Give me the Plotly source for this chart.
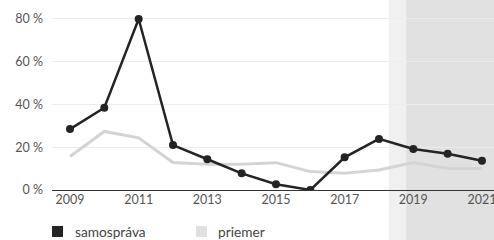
import plotly.graph_objects as go

years = list(range(2009, 2022))
samosprava = [28.5, 38.5, 80.0, 21.0, 14.4, 7.8, 2.7, 0.0, 15.3, 23.9, 19.2, 17.0, 13.7]
priemer = [15.7, 27.4, 24.4, 12.9, 12.0, 12.0, 12.8, 8.6, 7.8, 9.4, 12.8, 10.1, 10.1]
tick_years = [2009, 2011, 2013, 2015, 2017, 2019, 2021]
y_ticks = [0, 20, 40, 60, 80]
y_tick_text = [f"{v} %" for v in y_ticks]
series_names = ["samospráva", "priemer"]

dark = "#242424"
light = "#d4d4d4"
legend_colors = [dark, "#e0e0e0"]

fig = go.Figure()
fig.add_trace(go.Scatter(x=years, y=priemer, mode="lines", name=series_names[1],
                         line=dict(color=light, width=3), showlegend=False))
fig.add_trace(go.Scatter(x=years, y=samosprava, mode="lines+markers", name=series_names[0],
                         line=dict(color=dark, width=2.5),
                         marker=dict(color=dark, size=8), showlegend=False))

fig.add_shape(type="rect", xref="x", yref="paper", x0=2018.29, x1=2018.79,
              y0=-1, y1=2, fillcolor="#f0f0f0", line=dict(width=0), layer="below")
fig.add_shape(type="rect", xref="x", yref="paper", x0=2018.79, x1=2022,
              y0=-1, y1=2, fillcolor="#e1e1e1", line=dict(width=0), layer="below")

# custom legend (square swatches + text)
legend_sq_x = [0.0, 0.3258]
legend_txt_x = [0.0468, 0.371]
for name, col, sx, tx in zip(series_names, legend_colors, legend_sq_x, legend_txt_x):
    fig.add_shape(type="rect", xref="paper", yref="paper", x0=sx, x1=sx + 0.0249,
                  y0=-0.261, y1=-0.2, fillcolor=col, line=dict(width=0))
    fig.add_annotation(xref="paper", yref="paper", x=tx, y=-0.2306, text=name,
                       showarrow=False, xanchor="left", yanchor="middle",
                       font=dict(size=13.7, color="#444"))

fig.update_layout(
    width=494, height=240,
    margin=dict(l=52, r=0, t=10, b=50, autoexpand=False),
    paper_bgcolor="white", plot_bgcolor="rgba(0,0,0,0)",
    showlegend=False,
    font=dict(family="Lato, Open Sans, sans-serif", size=12.5, color="#555"),
    xaxis=dict(range=[2008.476, 2021.35], tickvals=tick_years,
               showgrid=False, zeroline=False, showline=False, ticks="",
               automargin=False, ticklabeloverflow="allow"),
    yaxis=dict(range=[0, 84.2], tickvals=y_ticks, ticktext=y_tick_text,
               showgrid=True, gridcolor="#ececec", gridwidth=1,
               zeroline=True, zerolinecolor="#333", zerolinewidth=1,
               ticks="", ticklabelstandoff=8, automargin=False),
)

fig.write_html("out.html", config={"displayModeBar": False},
               post_script="document.body.style.margin='0';document.body.style.overflow='hidden';")
